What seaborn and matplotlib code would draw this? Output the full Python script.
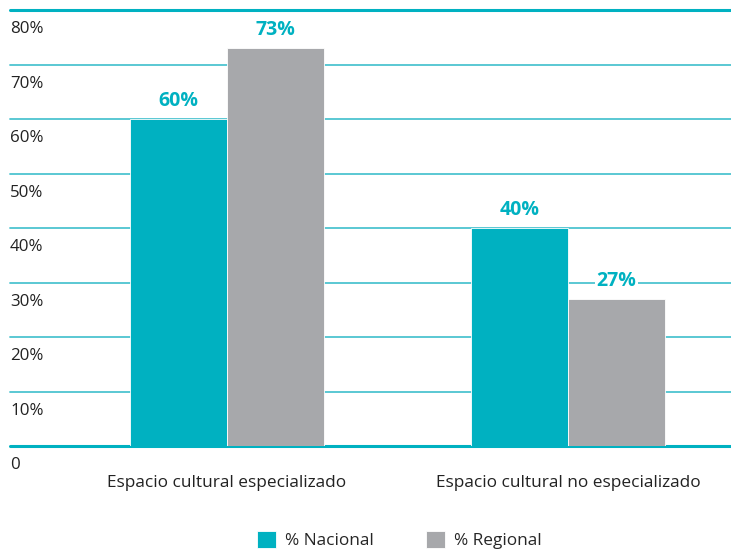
import pandas as pd
import matplotlib.pyplot as plt
import matplotlib.transforms as mtransforms
import seaborn as sns

categories = ["Espacio cultural especializado", "Espacio cultural no especializado"]
series = ["% Nacional", "% Regional"]
nacional = [60, 40]
regional = [73, 27]
yticks = [0, 10, 20, 30, 40, 50, 60, 70, 80]
ytick_labels = ["0", "10%", "20%", "30%", "40%", "50%", "60%", "70%", "80%"]

TEAL = "#00B1C1"
GRAY = "#A7A8AB"
GRID = "#4DC4D0"

df = pd.DataFrame({
    "categoria": categories * 2,
    "serie": [series[0]] * 2 + [series[1]] * 2,
    "valor": nacional + regional,
})

sns.set_style("white")
plt.rcParams["font.family"] = ["Open Sans", "DejaVu Sans"]

fig = plt.figure(figsize=(7.31, 5.54), dpi=100)
ax = fig.add_axes([10 / 731, 108 / 554, 721 / 731, 436 / 554])

sns.barplot(
    data=df, x="categoria", y="valor", hue="serie",
    palette=[TEAL, GRAY], width=0.57, saturation=1,
    edgecolor="white", linewidth=0.6, ax=ax, zorder=3,
)

ax.set_xlim(-0.636, 1.478)
ax.set_ylim(0, 80)
ax.set_xlabel("")
ax.set_ylabel("")

# horizontal grid lines
for v in yticks:
    lw = 2.2 if v in (0, 80) else 1.3
    col = TEAL if v in (0, 80) else GRID
    ax.axhline(v, color=col, lw=lw, zorder=1, clip_on=False)

# y labels sit just below each grid line
trans = mtransforms.blended_transform_factory(ax.transAxes, ax.transData)
for v, lab in zip(yticks, ytick_labels):
    ax.annotate(lab, xy=(0, v), xycoords=trans, xytext=(0, -8),
                textcoords="offset points", ha="left", va="top",
                fontsize=12.2, color="#222222")
ax.set_yticks([])

ax.set_xticks([0, 1])
ax.set_xticklabels(categories, fontsize=12.4, color="#222222")
ax.tick_params(axis="x", length=0, pad=21)
sns.despine(ax=ax, left=True, bottom=True, top=True, right=True)

for cont in ax.containers:
    ax.bar_label(cont, labels=[f"{int(b.get_height())}%" for b in cont],
                 padding=6, fontsize=14, fontweight="bold", color=TEAL,
                 bbox=dict(fc="white", ec="none", pad=1), zorder=4)

handles, labels = ax.get_legend_handles_labels()
ax.legend_.remove()
fig.legend(handles, labels, loc="center", bbox_to_anchor=(0.546, 0.025),
           ncol=2, frameon=False, fontsize=12.4, handlelength=1.15,
           handleheight=1.15, handletextpad=0.5, columnspacing=3.0)

fig.savefig("out.png", dpi=100)
